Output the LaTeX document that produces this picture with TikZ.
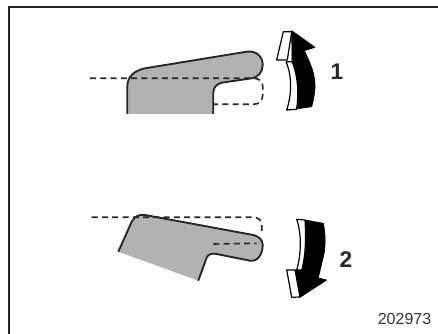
\documentclass[tikz,border=0pt]{standalone}
\usepackage{fontspec}
\setmainfont{Liberation Sans}
\usepackage{xcolor}
\usetikzlibrary{calc}

\begin{document}
\begin{tikzpicture}[
  x=0.75pt, y=-0.75pt,
  frameline/.style = {line width=1.5pt, black!85},
  leverfill/.style = {fill=black!30, draw=none},
  leverline/.style = {line width=1.4pt, black!85, line join=round},
  refline/.style   = {line width=1.2pt, black!85, dash pattern=on 4.5pt off 3.2pt},
  arrowdark/.style = {fill=black, draw=black, line width=0.5pt, line join=round},
  arrowpale/.style = {fill=white, draw=black, line width=0.9pt, line join=round},
  numlbl/.style    = {font=\fontsize{17}{17}\selectfont\bfseries, text=black!85, inner sep=0pt},
  codelbl/.style   = {font=\fontsize{12}{12}\selectfont, text=black!80, inner sep=0pt}
]
\useasboundingbox (0,0) rectangle (438,334);

%% ---- Frame ----
\draw[frameline] (9,334) -- (9,7) -- (438,7);

%% ---- Upper lever ----
\fill[leverfill] (127.3,114) -- (127.3,86.7)
  .. controls (127.3,76) and (135,70.5) .. (145,68.3)
  -- (246.7,51.7)
  .. controls (256,50.5) and (262.7,56) .. (262.7,65)
  .. controls (262.7,72) and (258,77.5) .. (251.7,78.3)
  -- (221.7,82.7)
  .. controls (216,84) and (213.3,88) .. (213.3,93)
  -- (213.3,114) -- cycle;
\draw[leverline] (127.3,114) -- (127.3,86.7)
  .. controls (127.3,76) and (135,70.5) .. (145,68.3)
  -- (246.7,51.7)
  .. controls (256,50.5) and (262.7,56) .. (262.7,65)
  .. controls (262.7,72) and (258,77.5) .. (251.7,78.3)
  -- (221.7,82.7)
  .. controls (216,84) and (213.3,88) .. (213.3,93)
  -- (213.3,114);
\draw[refline] (90,78.3) -- (253,78.3)
  .. controls (259,78.3) and (262.7,81) .. (262.7,86)
  -- (262.7,95)
  .. controls (262.7,101) and (259,104.3) .. (253.3,104.3)
  -- (213.3,104.3);

%% ---- Arrow 1 ----
\fill[arrowdark] (291.7,30.7) -- (315,47.3) -- (304.3,50.7)
  .. controls (310,62) and (315,74) .. (315,85)
  .. controls (315,93) and (313.5,100) .. (311.7,106.7)
  -- (296,109)
  .. controls (299,95) and (298,75) .. (292,61) -- cycle;
\draw[arrowpale] (283.3,31.7) -- (291.7,31.7) -- (287.3,60) -- (276.7,60) -- cycle;
\draw[arrowpale] (286,61.7) -- (292,61.7)
  .. controls (298,75) and (299,95) .. (296.5,109.3)
  -- (286.7,110)
  .. controls (291,97) and (293,78) .. (286,61.7);

\node[numlbl] (one) at (337,72) {1};

%% ---- Lower lever ----
\fill[leverfill] (118.3,251.7) -- (131.7,221.7)
  .. controls (134.5,216) and (140,214) .. (145,215)
  -- (253.3,235)
  .. controls (259,236.5) and (262.7,240) .. (262.7,245)
  .. controls (262.7,255) and (257,262) .. (250,260.7)
  -- (216.7,254)
  .. controls (212,253) and (208.5,254) .. (206.7,257.5)
  -- (198.3,280.7) -- cycle;
\draw[leverline] (118.3,251.7) -- (131.7,221.7)
  .. controls (134.5,216) and (140,214) .. (145,215)
  -- (253.3,235)
  .. controls (259,236.5) and (262.7,240) .. (262.7,245)
  .. controls (262.7,255) and (257,262) .. (250,260.7)
  -- (216.7,254)
  .. controls (212,253) and (208.5,254) .. (206.7,257.5)
  -- (198.3,280.7);
\draw[refline] (91.7,217.3) -- (253.3,217.3)
  .. controls (258,217.3) and (261.7,220) .. (261.7,225)
  -- (261.7,233);
\draw[refline] (213.3,244) -- (256.7,243.3);

%% ---- Arrow 2 ----
\fill[arrowdark] (305,220) -- (323.3,223.3)
  .. controls (326,235) and (325.5,250) .. (323,258)
  -- (318.3,278) -- (326.7,280) -- (300,297.3)
  -- (295,270) -- (301.7,270)
  .. controls (306,255) and (306,235) .. (305,220) -- cycle;
\draw[arrowpale] (296.7,219.3) -- (305,220)
  .. controls (306,235) and (306,255) .. (301.7,270)
  -- (296.7,270)
  .. controls (301,255) and (302,235) .. (296.7,219.3) -- cycle;
\draw[arrowpale] (286.7,270) -- (295,270) -- (300,297) -- (291.7,297.3) -- cycle;

\node[numlbl] (two) at (346,260) {2};

%% ---- Drawing number ----
\node[codelbl] (code) at (404.5,319) {202973};

\end{tikzpicture}
\end{document}
